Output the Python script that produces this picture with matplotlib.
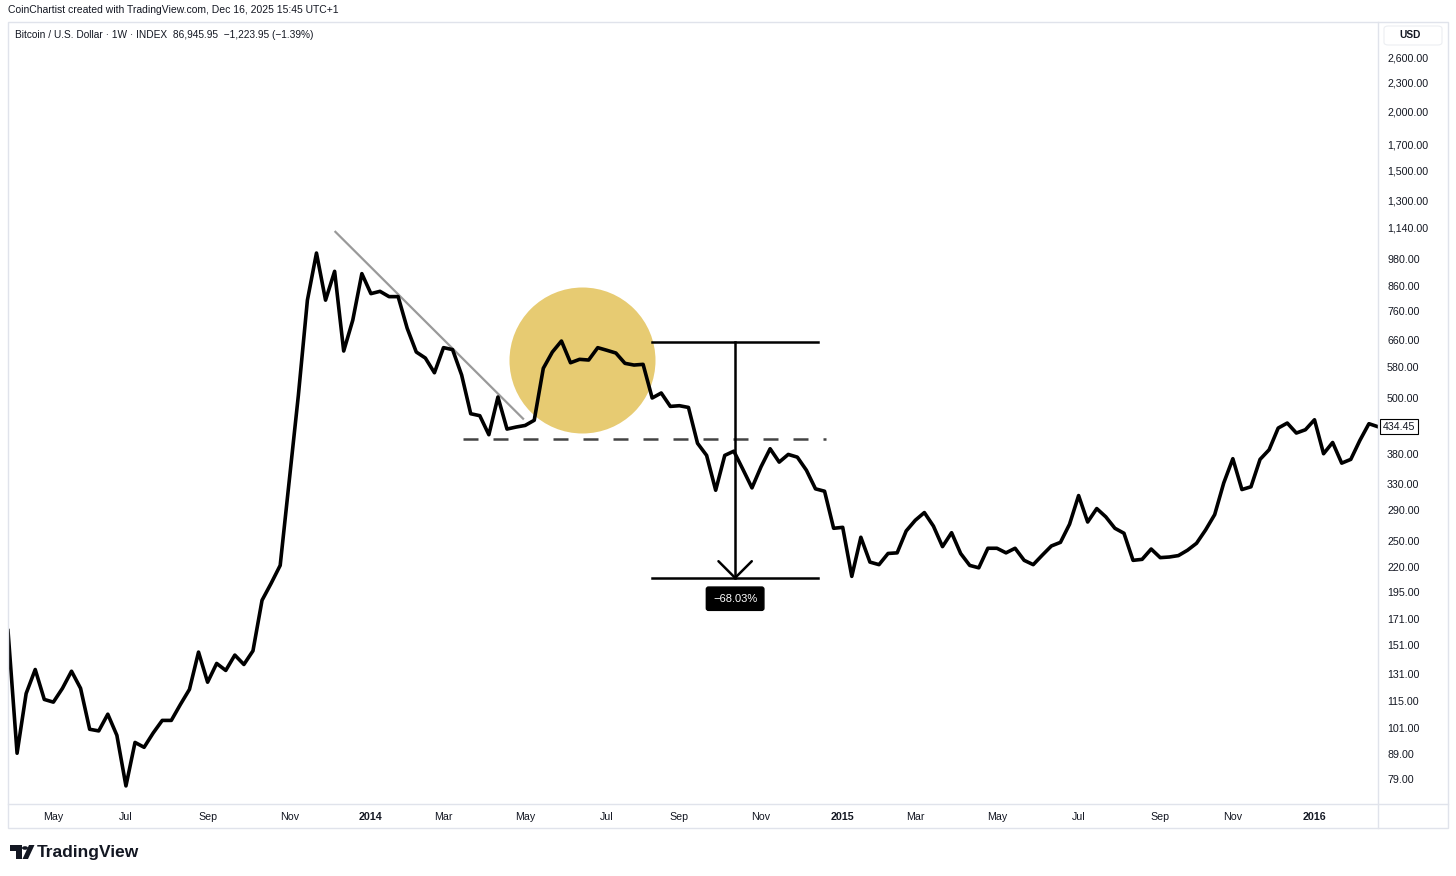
import numpy as np
import pandas as pd
import matplotlib
matplotlib.use("Agg")
import matplotlib.pyplot as plt
import matplotlib.dates as mdates
import matplotlib.transforms as mtransforms
from matplotlib.patches import Rectangle, Polygon, Circle, FancyBboxPatch

plt.rcParams['font.family'] = ['Liberation Sans', 'DejaVu Sans']

# weekly closes, BTC/USD INDEX, Apr 2013 -> Feb 2016
start_date = "2013-04-01"
prices = [
    162.0, 89.5, 119.5, 134.2, 116.1, 114.6, 122.5, 133.1, 122.5, 100.5,
    99.7, 108.1, 97.6, 76.4, 94.3, 92.1, 98.7, 104.9, 104.9, 113.3,
    121.9, 146.0, 126.2, 138.2, 133.6, 143.9, 137.5, 146.9, 187.6, 203.6,
    222.1, 334.8, 505.0, 801.6, 1007.0, 801.6, 921.7, 626.7, 727.6, 911.4,
    827.3, 836.6, 815.4, 815.4, 699.5, 623.7, 605.8, 564.2, 637.1, 631.0,
    558.0, 462.7, 458.3, 418.0, 501.7, 429.6, 433.8, 437.2, 448.3, 576.4,
    623.7, 657.8, 592.2, 602.0, 600.0, 637.0, 629.0, 620.7, 590.5, 585.6,
    587.6, 499.3, 511.5, 479.4, 481.0, 477.0, 401.0, 378.2, 319.5, 378.2,
    386.0, 353.5, 323.2, 358.0, 390.6, 366.1, 380.0, 375.0, 352.0, 321.7,
    318.0, 265.8, 267.0, 210.6, 254.5, 225.7, 222.9, 235.3, 236.0, 262.4,
    276.3, 286.8, 268.6, 243.2, 260.2, 235.3, 222.1, 219.5, 241.3, 241.3,
    236.0, 241.3, 227.6, 222.9, 233.4, 244.0, 248.3, 271.0, 311.4, 274.0,
    292.4, 280.9, 265.8, 259.5, 227.6, 228.7, 240.4, 230.6, 231.3, 232.9,
    239.0, 247.2, 263.7, 284.0, 331.1, 372.2, 320.6, 324.9, 371.0, 388.7,
    431.7, 442.3, 421.4, 428.2, 449.4, 381.3, 402.6, 364.3, 371.0, 406.6,
    440.9, 434.45,
]
last_price = 434.45

price_ticks = [2600, 2300, 2000, 1700, 1500, 1300, 1140, 980, 860, 760, 660,
               580, 500, 380, 330, 290, 250, 220, 195, 171, 151, 131, 115,
               101, 89, 79]
month_names = {1: None, 3: "Mar", 5: "May", 7: "Jul", 9: "Sep", 11: "Nov"}

# drawings
trend_pts = [("2013-12-09", 1120.0), ("2014-05-04", 450.0)]
support_level = 410.0
support_span = ("2014-03-18", "2014-12-23")
circle_center = ("2014-06-18", 600.0)
measure_top = 654.0
measure_pct = -68.03
measure_bottom = measure_top * (1 + measure_pct / 100)
measure_span = ("2014-08-11", "2014-12-17")
measure_x = "2014-10-14"

header = "CoinChartist created with TradingView.com, Dec 16, 2025 15:45 UTC+1"
title = "Bitcoin / U.S. Dollar \u00b7 1W \u00b7 INDEX  86,945.95  \u22121,223.95 (\u22121.39%)"

W, H = 1456, 876
dates = pd.date_range(start_date, periods=len(prices), freq="7D")

fig = plt.figure(figsize=(W / 100, H / 100), dpi=100)
fig.patch.set_facecolor("white")

def fx(px):
    return px / W

def fy(py):
    return 1 - py / H

ax_left, ax_right, ax_top, ax_bot = 8, 1378, 22, 804
ax = fig.add_axes([fx(ax_left), fy(ax_bot), fx(ax_right - ax_left), (ax_bot - ax_top) / H])
ax.set_yscale("log")
ax.set_ylim(70.0, 3080)
ax.set_xlim(mdates.date2num(dates[0]), mdates.date2num(dates[-1]))
for s in ax.spines.values():
    s.set_visible(False)

ax.plot(dates, prices, color="black", lw=2.6, zorder=4, solid_joinstyle="round")

# circle (fixed pixel size)
ax.scatter([pd.Timestamp(circle_center[0])], [circle_center[1]], s=(146 * 0.72) ** 2,
           color="#E7CB72", linewidths=0, zorder=2)

# trendline
ax.plot([pd.Timestamp(d) for d, _ in trend_pts], [p for _, p in trend_pts],
        color="#9a9a9a", lw=1.6, zorder=3, solid_capstyle="butt")

# support dashed
ax.plot([pd.Timestamp(support_span[0]), pd.Timestamp(support_span[1])],
        [support_level, support_level], color="#444444", lw=1.8, ls=(0, (6, 6)), zorder=3)

# measure tool
m0, m1 = pd.Timestamp(measure_span[0]), pd.Timestamp(measure_span[1])
mx = pd.Timestamp(measure_x)
ax.plot([m0, m1], [measure_top, measure_top], color="black", lw=1.8, zorder=5)
ax.plot([m0, m1], [measure_bottom, measure_bottom], color="black", lw=1.8, zorder=5)
ax.plot([mx, mx], [measure_top, measure_bottom], color="black", lw=1.8, zorder=5)
for dx in (-12, 12):
    ax.annotate("", xy=(mdates.date2num(mx), measure_bottom), xytext=(dx, 12),
                textcoords="offset points",
                arrowprops=dict(arrowstyle="-", lw=1.8, color="black",
                                shrinkA=0, shrinkB=0), zorder=5)
ax.annotate(f"\u2212{abs(measure_pct):.2f}%", xy=(mdates.date2num(mx), measure_bottom),
            xytext=(0, -15), textcoords="offset points", ha="center", va="center",
            color="white", fontsize=8, zorder=6,
            bbox=dict(boxstyle="round,pad=0.6,rounding_size=0.2", fc="black", ec="black"))

# y axis labels on the right
ax.yaxis.tick_right()
ax.yaxis.set_minor_locator(matplotlib.ticker.NullLocator())
ax.set_yticks(price_ticks)
ax.set_yticklabels([f"{v:,.2f}" for v in price_ticks])
ax.tick_params(axis="y", length=0, pad=6.5, labelsize=7.7, labelcolor="#131722")

trans = mtransforms.blended_transform_factory(ax.transAxes, ax.transData)
ax.text(1.0 + 5 / 1370, last_price, f"{last_price:.2f}", transform=trans, ha="left",
        va="center", fontsize=7.7, color="#131722", clip_on=False, zorder=7,
        bbox=dict(boxstyle="square,pad=0.25", fc="white", ec="black", lw=0.8))

# x axis labels: first weekly bar of each odd month
tick_pos, tick_lab, tick_bold = [], [], []
for d in dates:
    if d.day <= 7 and d.month in month_names:
        tick_pos.append(d)
        if d.month == 1:
            tick_lab.append(str(d.year)); tick_bold.append(True)
        else:
            tick_lab.append(month_names[d.month]); tick_bold.append(False)
ax.set_xticks(tick_pos)
ax.set_xticklabels(tick_lab)
for lab, b in zip(ax.get_xticklabels(), tick_bold):
    if b:
        lab.set_fontweight("bold")
ax.tick_params(axis="x", length=0, pad=6, labelsize=7.7, labelcolor="#131722")

# frame lines
edge = "#e0e3eb"
fig.add_artist(Rectangle((fx(8), fy(828)), fx(1448 - 8), (828 - 22) / H, transform=fig.transFigure,
                         fill=False, ec=edge, lw=1))
fig.add_artist(plt.Line2D([fx(8), fx(1448)], [fy(ax_bot), fy(ax_bot)], color=edge, lw=1))
fig.add_artist(plt.Line2D([fx(ax_right), fx(ax_right)], [fy(22), fy(828)], color=edge, lw=1))

# texts
fig.text(fx(8), fy(10), header, ha="left", va="center", fontsize=7.5, color="#131722")
fig.text(fx(15), fy(35), title, ha="left", va="center", fontsize=7.3, color="#131722")
fig.add_artist(FancyBboxPatch((fx(1384), fy(45)), fx(58), 19 / H,
                              boxstyle="round,pad=0,rounding_size=0.003",
                              transform=fig.transFigure, fc="white", ec="#eceef2", lw=0.8))
fig.text(fx(1399), fy(35), "USD", ha="left", va="center", fontsize=7.3, color="#131722",
         fontweight="bold")

# TradingView logo
def fpts(pts):
    return [(fx(x), fy(y)) for x, y in pts]

fig.add_artist(Polygon(fpts([(10, 845), (22, 845), (22, 859), (16, 859), (16, 851), (10, 851)]),
                       closed=True, fc="#131722", ec="none", transform=fig.transFigure))
fig.add_artist(Circle((fx(25), fy(848)), fx(3), fc="#131722", ec="none", transform=fig.transFigure))
fig.add_artist(Polygon(fpts([(28, 859), (22.5, 859), (29, 845), (34.5, 845)]),
                       closed=True, fc="#131722", ec="none", transform=fig.transFigure))
fig.text(fx(37), fy(852), "TradingView", ha="left", va="center", fontsize=12.5,
         fontweight="bold", color="#131722")

fig.savefig("out.png", dpi=100, facecolor="white")
